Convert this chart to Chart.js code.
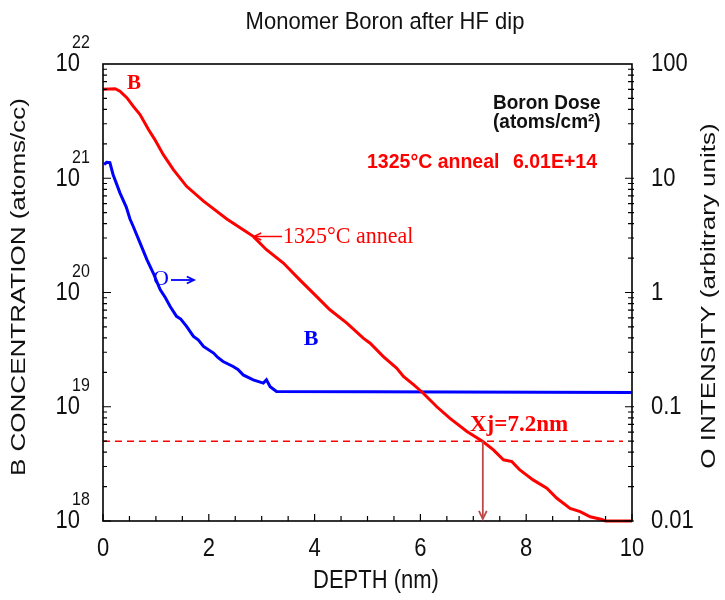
<!DOCTYPE html>
<html><head><meta charset="utf-8">
<script src="https://cdn.jsdelivr.net/npm/chart.js@4.4.0/dist/chart.umd.min.js"></script>
<style>html,body{margin:0;padding:0;background:#fff;}#wrap{width:725px;height:600px;}</style>
</head><body><div id="wrap"><canvas id="c" width="725" height="600"></canvas></div>
<script>
// ---- data ----
const depthB = [0, 0.23, 0.32, 0.45, 0.57, 0.70, 0.86, 0.98, 1.14, 1.33, 1.58, 1.90, 2.34, 2.65, 2.84, 3.09, 3.41, 3.72, 4.04, 4.29, 4.61, 4.92, 5.05, 5.30, 5.55, 5.68, 5.87, 6.05, 6.31, 6.56, 6.88, 7.18, 7.38, 7.57, 7.73, 7.88, 8.13, 8.39, 8.58, 8.83, 9.02, 9.21, 9.43, 9.50, 10];
const boronConc = [6.0e21, 6.07e21, 5.78e21, 5.07e21, 4.28e21, 3.61e21, 2.67e21, 2.18e21, 1.61e21, 1.19e21, 8.5e20, 6.3e20, 4.4e20, 3.55e20, 3.1e20, 2.37e20, 1.81e20, 1.29e20, 9.2e19, 7.06e19, 5.4e19, 3.99e19, 3.6e19, 2.75e19, 2.18e19, 1.84e19, 1.56e19, 1.32e19, 1.0e19, 7.9e18, 6.07e18, 4.96e18, 4.19e18, 3.43e18, 3.31e18, 2.80e18, 2.29e18, 1.94e18, 1.58e18, 1.29e18, 1.21e18, 1.09e18, 1.03e18, 1.0e18, 1.0e18];
const depthO = [0.02, 0.07, 0.13, 0.19, 0.32, 0.44, 0.51, 0.57, 0.70, 0.83, 0.95, 1.08, 1.18, 1.27, 1.39, 1.47, 1.58, 1.71, 1.80, 1.90, 2.09, 2.17, 2.27, 2.46, 2.55, 2.65, 2.84, 3.03, 3.09, 3.16, 3.28, 10];
const oxygenIntensity = [13.2, 13.8, 13.7, 10.8, 7.45, 5.6, 4.4, 3.8, 2.72, 1.94, 1.48, 1.06, 0.90, 0.755, 0.618, 0.585, 0.505, 0.413, 0.385, 0.337, 0.295, 0.270, 0.249, 0.225, 0.212, 0.19, 0.172, 0.161, 0.172, 0.150, 0.136, 0.133];
const xjDepth = 7.18;
const xjLevel = 5e18;
const xjLineEnd = 9.83;
const depthTicks = [0, 2, 4, 6, 8, 10];
const leftTickExps = [18, 19, 20, 21, 22];
const rightTickValues = [0.01, 0.1, 1, 10, 100];
const rightTickLabels = ['0.01', '0.1', '1', '10', '100'];

const SANS = '"Liberation Sans", Arial, sans-serif';
const SERIF = '"Liberation Serif", "Times New Roman", serif';

// draw text; k stretches along the vertical of the page (for rotated text: along its length)
function txt(ctx, s, x, y, font, color, align, rot, k) {
  ctx.save();
  ctx.font = font; ctx.fillStyle = color; ctx.textAlign = align || 'left'; ctx.textBaseline = 'middle';
  ctx.translate(x, y);
  if (rot) { ctx.rotate(rot); if (k) ctx.scale(k, 1); }
  else if (k) ctx.scale(1, k);
  ctx.fillText(s, 0, 0);
  ctx.restore();
}
function arrow(ctx, x1, y1, x2, y2, color, w, head) {
  ctx.save();
  ctx.strokeStyle = color; ctx.lineWidth = w;
  ctx.beginPath(); ctx.moveTo(x1, y1); ctx.lineTo(x2, y2); ctx.stroke();
  const a = Math.atan2(y2 - y1, x2 - x1);
  ctx.beginPath();
  ctx.moveTo(x2 - head * Math.cos(a - 0.45), y2 - head * Math.sin(a - 0.45));
  ctx.lineTo(x2, y2);
  ctx.lineTo(x2 - head * Math.cos(a + 0.45), y2 - head * Math.sin(a + 0.45));
  ctx.stroke();
  ctx.restore();
}

const decor = {
  id: 'decor',
  afterDatasetsDraw(chart) {
    const ctx = chart.ctx, ca = chart.chartArea;
    const sx = chart.scales.x, sy = chart.scales.y, sy2 = chart.scales.y2;
    // frame
    ctx.save();
    ctx.strokeStyle = '#000'; ctx.lineWidth = 1.6;
    ctx.strokeRect(ca.left, ca.top, ca.right - ca.left, ca.bottom - ca.top);
    ctx.lineWidth = 1.2;
    ctx.beginPath();
    for (let v = 0; v <= 10.001; v += 0.5) {
      const px = sx.getPixelForValue(v);
      const len = (Math.abs(v % 2) < 1e-6) ? 7 : 5;
      ctx.moveTo(px, ca.bottom); ctx.lineTo(px, ca.bottom - len);
    }
    for (let e = 18; e < 22; e++) {
      for (let m = 1; m <= 9; m++) {
        const py = sy.getPixelForValue(m * Math.pow(10, e));
        const len = m === 1 ? 8 : 4;
        ctx.moveTo(ca.left, py); ctx.lineTo(ca.left + len, py);
      }
    }
    for (let e = -2; e < 2; e++) {
      for (let m = 1; m <= 9; m++) {
        const py = sy2.getPixelForValue(m * Math.pow(10, e));
        const len = m === 1 ? 7 : 4;
        ctx.moveTo(ca.right + 2, py); ctx.lineTo(ca.right - len, py);
      }
    }
    ctx.stroke();
    ctx.restore();

    // tick labels
    const K = 1.2;
    depthTicks.forEach(v => txt(ctx, String(v), sx.getPixelForValue(v), 549, '22px ' + SANS, '#111', 'center', 0, K));
    leftTickExps.forEach(e => {
      const py = sy.getPixelForValue(Math.pow(10, e));
      txt(ctx, '10', 80, py, '22px ' + SANS, '#111', 'right', 0, K);
      txt(ctx, String(e), 72, py - 21, '16px ' + SANS, '#111', 'left', 0, K);
    });
    rightTickValues.forEach((v, i) => txt(ctx, rightTickLabels[i], 651, sy2.getPixelForValue(v), '22px ' + SANS, '#111', 'left', 0, K));

    // titles
    txt(ctx, 'Monomer Boron after HF dip', 385, 22, '22px ' + SANS, '#111', 'center', 0, 1.12);
    txt(ctx, 'DEPTH (nm)', 376, 581, '22px ' + SANS, '#111', 'center', 0, 1.15);
    txt(ctx, 'B CONCENTRATION (atoms/cc)', 19, 287, '20px ' + SANS, '#111', 'center', -Math.PI / 2, 1.3);
    txt(ctx, 'O INTENSITY (arbitrary units)', 709, 296, '20px ' + SANS, '#111', 'center', -Math.PI / 2, 1.3);

    // annotations
    txt(ctx, 'B', 134, 84, 'bold 21px ' + SERIF, '#ff0000', 'center');
    txt(ctx, '1325°C anneal', 283, 237, '22px ' + SERIF, '#ff0000', 'left', 0, 1.08);
    arrow(ctx, 282, 236.5, 254, 236.5, '#ff0000', 1.5, 8);
    txt(ctx, 'Boron Dose', 493, 103, 'bold 19px ' + SANS, '#111', 'left', 0, 1.08);
    txt(ctx, '(atoms/cm²)', 493, 122, 'bold 19px ' + SANS, '#111', 'left', 0, 1.08);
    txt(ctx, '1325°C anneal', 367, 162, 'bold 19.5px ' + SANS, '#ff0000', 'left', 0, 1.08);
    txt(ctx, '6.01E+14', 513, 162, 'bold 19.5px ' + SANS, '#ff0000', 'left', 0, 1.08);
    txt(ctx, 'O', 153, 279, '22px ' + SERIF, '#0000ff', 'left');
    arrow(ctx, 171, 280, 194, 280, '#0000ff', 1.8, 8);
    txt(ctx, 'B', 311, 339, 'bold 22px ' + SERIF, '#0000ff', 'center');
    txt(ctx, 'Xj=7.2nm', 470, 425, 'bold 23px ' + SERIF, '#ff0000', 'left');
    const ax = sx.getPixelForValue(xjDepth);
    arrow(ctx, ax, sy.getPixelForValue(xjLevel), ax, ca.bottom - 2, '#c04848', 1.8, 9);
  }
};

new Chart(document.getElementById('c'), {
  type: 'line',
  data: {
    datasets: [
      { label: 'B concentration', data: depthB.map((x, i) => ({ x, y: boronConc[i] })), yAxisID: 'y',
        borderColor: '#ff0000', borderWidth: 3, pointRadius: 0, tension: 0, clip: false },
      { label: 'O intensity', data: depthO.map((x, i) => ({ x, y: oxygenIntensity[i] })), yAxisID: 'y2',
        borderColor: '#0000ff', borderWidth: 3, pointRadius: 0, tension: 0 },
      { label: 'Xj level', data: [{ x: 0, y: xjLevel }, { x: xjLineEnd, y: xjLevel }], yAxisID: 'y',
        borderColor: '#ff0000', borderWidth: 1.5, borderDash: [7, 5], pointRadius: 0 }
    ]
  },
  options: {
    responsive: false, animation: false,
    layout: { padding: { left: 103, right: 93, top: 64, bottom: 79 } },
    plugins: { legend: { display: false }, title: { display: false }, tooltip: { enabled: false } },
    scales: {
      x: { type: 'linear', min: 0, max: 10, display: false },
      y: { type: 'logarithmic', min: 1e18, max: 1e22, display: false },
      y2: { type: 'logarithmic', min: 0.01, max: 100, display: false, position: 'right' }
    }
  },
  plugins: [decor]
});
</script></body></html>
